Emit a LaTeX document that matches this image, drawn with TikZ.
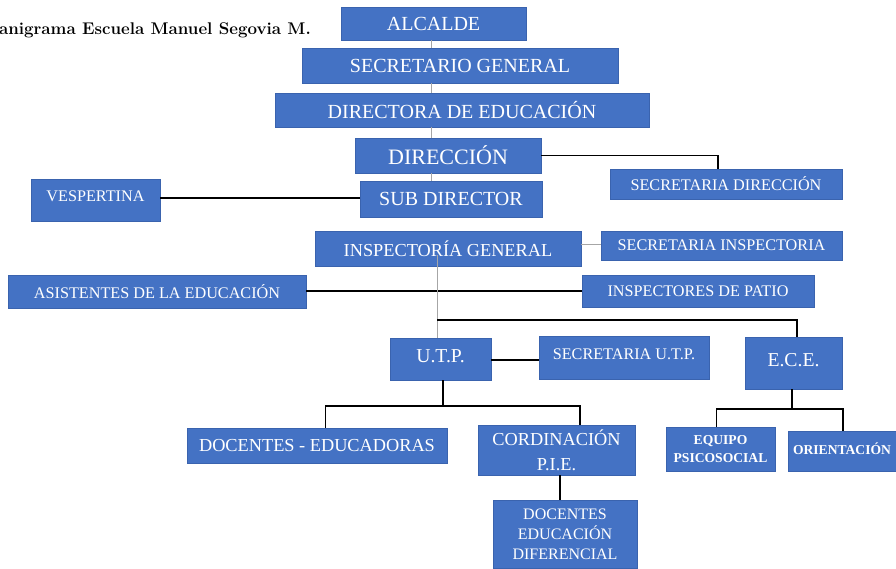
\documentclass[tikz,border=0pt]{standalone}
\usepackage{fontspec}
\newfontfamily\boxfont{Liberation Serif}
\definecolor{boxblue}{HTML}{4472C4}
\definecolor{boxedge}{HTML}{3A63AE}
\definecolor{spinegray}{HTML}{A6A6A6}
\tikzset{
  box/.style={rectangle, fill=boxblue, draw=boxedge, line width=0.6pt, text=white, inner sep=0pt, align=center},
  fbig/.style={font=\boxfont\fontsize{20}{24}\selectfont},
  fhuge/.style={font=\boxfont\fontsize{22}{26}\selectfont},
  fmid/.style={font=\boxfont\fontsize{18.3}{25}\selectfont},
  fsmall/.style={font=\boxfont\fontsize{16.2}{20}\selectfont},
  fdif/.style={font=\boxfont\fontsize{16}{20}\selectfont},
  ftiny/.style={font=\boxfont\bfseries\fontsize{13.6}{18}\selectfont},
  link/.style={draw=black, line width=1.3pt},
  glink/.style={draw=spinegray, line width=1pt}
}
\begin{document}
\begin{tikzpicture}[x=1pt,y=-1pt]
\useasboundingbox (0,0) rectangle (896,569);
% title
\node[anchor=base east, inner sep=0pt, font=\bfseries\fontsize{16.9}{20}\selectfont] (title) at (311,34.5) {anigrama Escuela Manuel Segovia M.};
% boxes
\node[box, fbig, minimum width=185pt, minimum height=33pt] (alc) at (433.5,23.5) {ALCALDE};
\node[box, fbig, minimum width=316pt, minimum height=35pt] (sg) at (460,65.5) {SECRETARIO GENERAL};
\node[box, fbig, minimum width=374pt, minimum height=34pt] (de) at (462,110) {DIRECTORA DE EDUCACIÓN};
\node[box, fhuge, minimum width=186pt, minimum height=35pt] (dir) at (448,155.5) {DIRECCIÓN};
\node[box, fbig, minimum width=182pt, minimum height=36pt] (sub) at (451,199) {SUB DIRECTOR};
\node[box, fsmall, minimum width=129pt, minimum height=42pt, text depth=7pt] (vesp) at (95.5,200) {VESPERTINA};
\node[box, fsmall, minimum width=232pt, minimum height=30pt] (secdir) at (726,184) {SECRETARIA DIRECCIÓN};
\node[box, fmid, minimum width=266pt, minimum height=35pt] (insp) at (448,248.5) {INSPECTORÍA GENERAL};
\node[box, fsmall, minimum width=241pt, minimum height=29pt] (secinsp) at (721.5,245.5) {SECRETARIA INSPECTORIA};
\node[box, fsmall, minimum width=298pt, minimum height=33pt] (asist) at (157,291.5) {ASISTENTES DE LA EDUCACIÓN};
\node[box, fsmall, minimum width=232pt, minimum height=32pt] (patio) at (698,291) {INSPECTORES DE PATIO};
\node[box, font=\boxfont\fontsize{19.7}{24}\selectfont, minimum width=101pt, minimum height=42pt, text depth=6pt] (utp) at (440.5,359) {U.T.P.};
\node[box, fsmall, minimum width=170pt, minimum height=43pt, text depth=6pt] (secutp) at (624,357.5) {SECRETARIA U.T.P.};
\node[box, font=\boxfont\fontsize{19.7}{24}\selectfont, minimum width=97pt, minimum height=52pt, text depth=6pt] (ece) at (793.5,363) {E.C.E.};
\node[box, fmid, minimum width=260pt, minimum height=35pt] (doc) at (317,445.5) {DOCENTES - EDUCADORAS};
\node[box, fmid, minimum width=157pt, minimum height=50pt] (pie) at (556.5,450) {CORDINACIÓN\\P.I.E.};
\node[box, fdif, minimum width=144pt, minimum height=68pt] (dif) at (565,534) {DOCENTES\\EDUCACIÓN\\DIFERENCIAL};
\node[box, ftiny, minimum width=109pt, minimum height=44pt] (equipo) at (720.5,449) {EQUIPO\\PSICOSOCIAL};
\node[box, ftiny, minimum width=108pt, minimum height=40pt, text depth=5pt] (orient) at (842,451) {ORIENTACIÓN};
% helper coordinates
\coordinate (sp1) at (431.5,0);
\coordinate (sdx) at (718,0);
\coordinate (sp2) at (437,0);
\coordinate (br2) at (0,320);
\coordinate (ecex) at (797,0);
\coordinate (utpx) at (443,0);
\coordinate (utpbar) at (0,406);
\coordinate (docx) at (325.5,0);
\coordinate (piex) at (580,0);
\coordinate (difx) at (560,0);
\coordinate (ecdx) at (792,0);
\coordinate (ecbar) at (0,409);
\coordinate (eqx) at (716.5,0);
\coordinate (orx) at (843,0);
\coordinate (vy) at (0,198);
\coordinate (iy) at (0,245);
\coordinate (ay) at (0,291);
\coordinate (uy) at (0,360);
\coordinate (ity) at (0,255);
% connectors
\draw[glink] (alc.south -| sp1) -- (sg.north -| sp1);
\draw[glink] (sg.south -| sp1) -- (de.north -| sp1);
\draw[glink] (de.south -| sp1) -- (dir.north -| sp1);
\draw[glink] (dir.south -| sp1) -- (sub.north -| sp1);
\draw[link] (dir.east) -| (sdx |- secdir.north);
\draw[link] (vesp.east |- vy) -- (sub.west |- vy);
\draw[glink] (insp.east |- iy) -- (secinsp.west |- iy);
\draw[link] (asist.east |- ay) -- (patio.west |- ay);
\draw[glink] (sp2 |- ity) -- (utp.north -| sp2);
\draw[link] (sp2 |- br2) -- (ecex |- br2) -- (ece.north -| ecex);
\draw[link] (utp.east |- uy) -- (secutp.west |- uy);
\draw[link] (utp.south -| utpx) -- (utpx |- utpbar);
\draw[link] (doc.north -| docx) -- (docx |- utpbar) -- (piex |- utpbar) -- (pie.north -| piex);
\draw[link] (pie.south -| difx) -- (dif.north -| difx);
\draw[link] (ece.south -| ecdx) -- (ecdx |- ecbar);
\draw[link] (equipo.north -| eqx) -- (eqx |- ecbar) -- (orx |- ecbar) -- (orient.north -| orx);
\end{tikzpicture}
\end{document}
